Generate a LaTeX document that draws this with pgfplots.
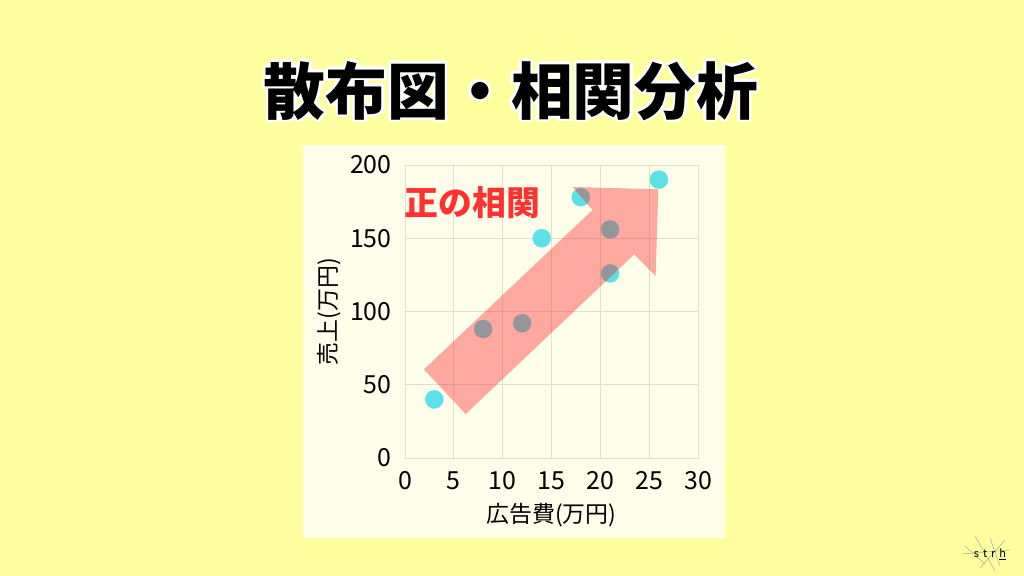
\documentclass[border=0pt]{standalone}
\usepackage{fontspec}
\setmainfont{Noto Sans CJK JP}
\usepackage{pgfplots}
\pgfplotsset{compat=1.18}

\definecolor{bgyellow}{RGB}{255,255,160}
\definecolor{panel}{RGB}{255,254,234}
\definecolor{gridc}{RGB}{226,223,205}
\definecolor{dotc}{RGB}{92,225,230}
\definecolor{arrowred}{RGB}{254,11,20}
\definecolor{labred}{RGB}{255,49,49}

\begin{document}
\begin{tikzpicture}[x=1bp,y=1bp]
\useasboundingbox (0,0) rectangle (1024,576);
\fill[bgyellow] (0,0) rectangle (1024,576);
\fill[panel] (303,38) rectangle (725,431);

% title with white outline
\foreach \a in {0,20,...,340}
  \node[white, font=\fontsize{62}{62}\selectfont\bfseries] at ([shift={(\a:2.5)}]511,485) {散布図・相関分析};
\node[black, font=\fontsize{62}{62}\selectfont\bfseries] at (511,485) {散布図・相関分析};

\begin{axis}[
  at={(405bp,118bp)}, anchor=south west,
  scale only axis,
  width=293bp, height=293bp,
  xmin=0, xmax=30, ymin=0, ymax=200,
  xtick={0,5,...,30}, ytick={0,50,...,200},
  grid=major,
  grid style={gridc, line width=0.8bp},
  axis line style={gridc, line width=0.8bp},
  major tick length=0pt,
  tick label style={font=\fontsize{25}{25}\selectfont, black},
  /pgf/number format/assume math mode=true,
  xticklabel style={yshift=-10bp},
  yticklabel style={xshift=-10bp},
  xlabel={広告費(万円)},
  ylabel={売上(万円)},
  label style={font=\fontsize{23}{23}\selectfont, black},
  xlabel style={yshift=-6bp},
  ylabel style={yshift=2bp},
  clip=false,
  clip marker paths=true,
]
\addplot[only marks, mark=*, mark size=9bp, color=dotc]
  coordinates {
    (3,40) (8,88) (12,92) (14,150) (18,178) (21,156) (21,126) (26,190)
  };

% arrow annotation (drawn over the points)
\addplot[draw=none, fill=arrowred, fill opacity=0.35, mark=none]
  coordinates {
    (1.94,60.5) (6.21,30.0) (23.47,139.0) (25.66,124.2)
    (25.93,183.4) (17.16,185.0) (19.21,169.3)
  } -- cycle;
\end{axis}

\node[labred, anchor=west, font=\fontsize{34}{34}\selectfont\bfseries] at (401,373) {正の相関};

% watermark
\begin{scope}[gray!70, line width=0.5bp]
\draw (965,30) -- (985,12);
\draw (975,40) -- (995,5);
\draw (990,38) -- (1000,10);
\draw (962,22) -- (1010,26);
\draw (980,8) -- (1005,36);
\end{scope}
\node[font=\fontsize{11}{11}\selectfont] at (990,22) {s\hspace{4bp}t\hspace{4bp}r\hspace{4bp}\underline{h}};
\end{tikzpicture}
\end{document}
